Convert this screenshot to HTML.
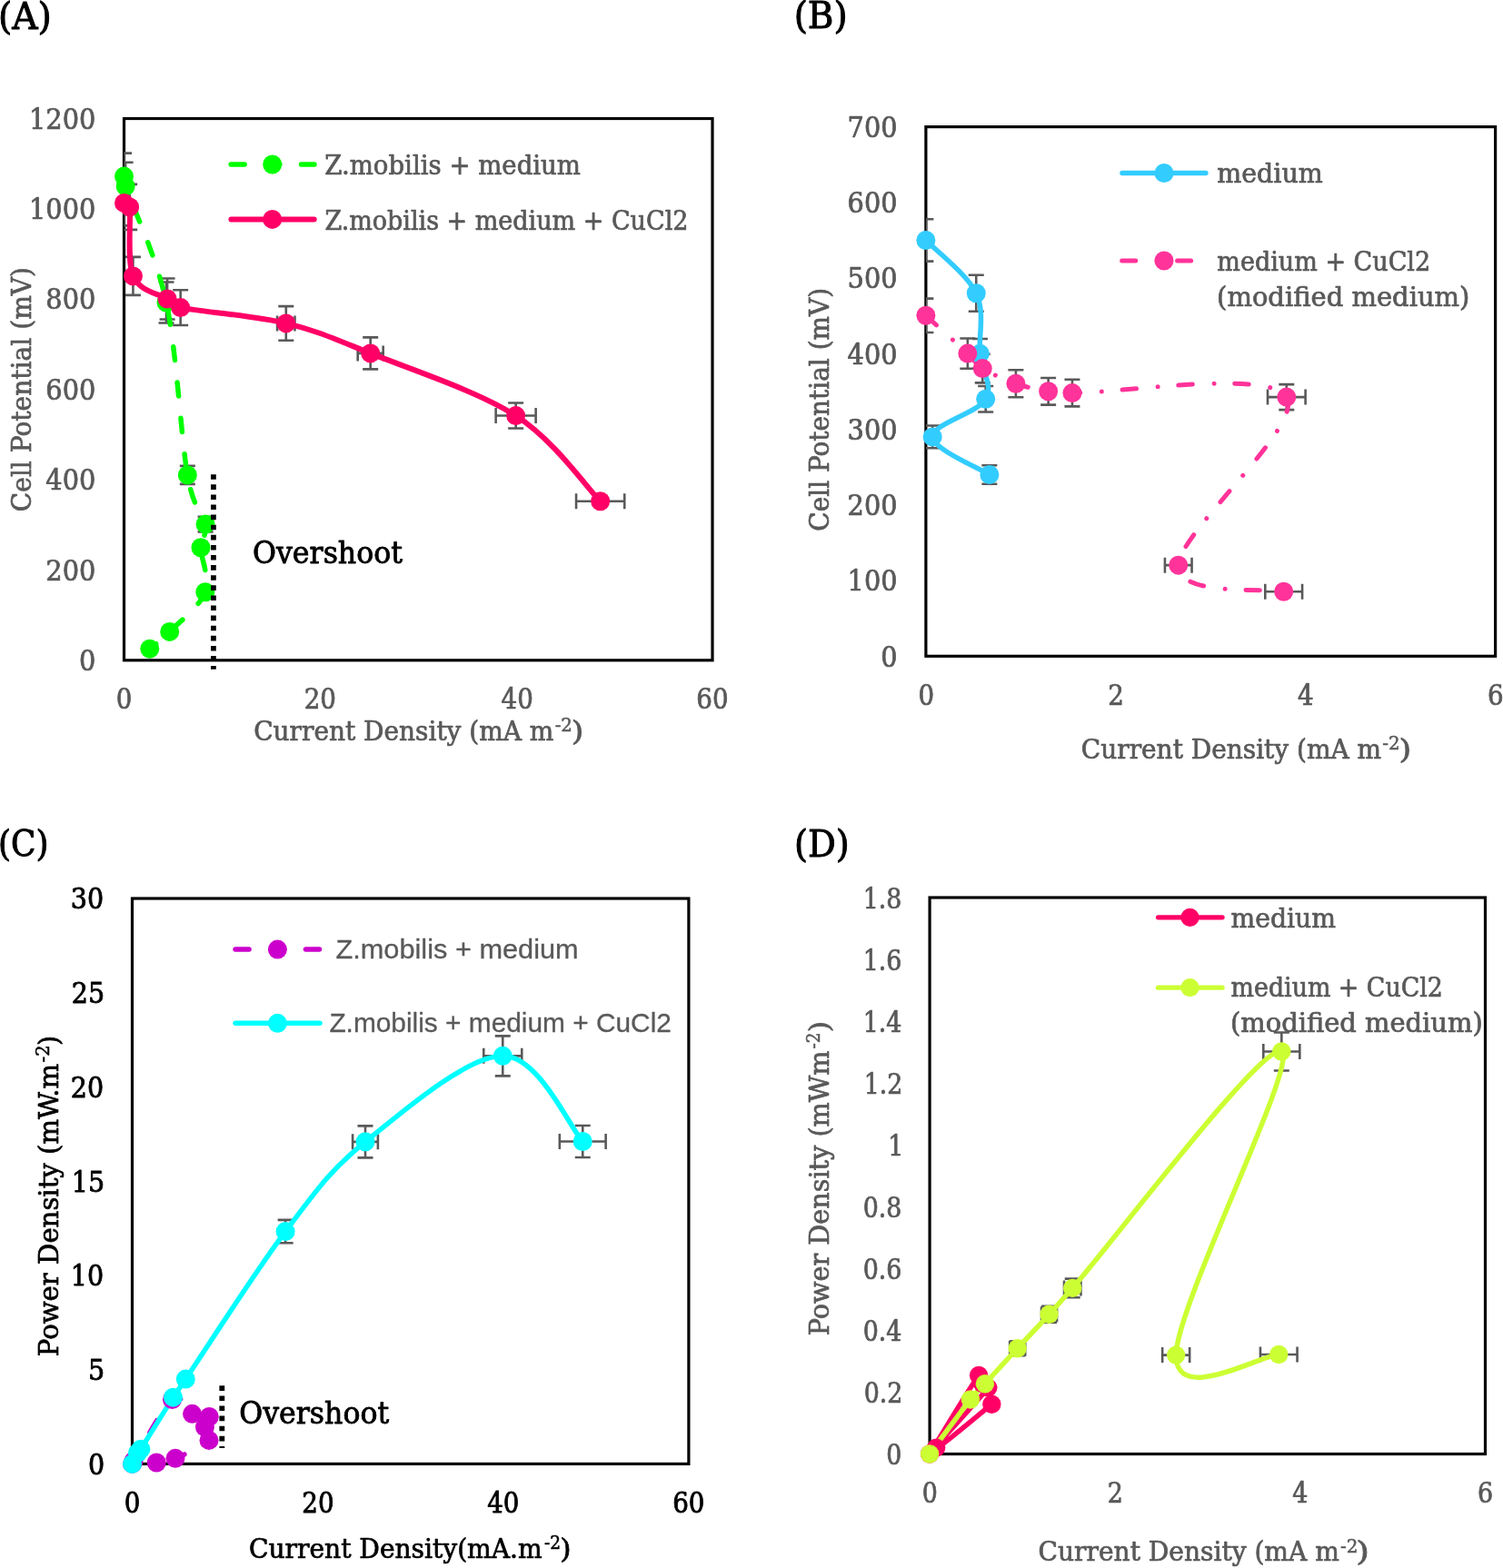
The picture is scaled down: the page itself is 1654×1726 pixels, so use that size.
<!DOCTYPE html>
<html><head><meta charset="utf-8"><title>Polarization and power density curves</title>
<style>html,body{margin:0;padding:0;background:#fff;}svg{display:block;}</style></head>
<body>
<svg width="1654" height="1726" viewBox="0 0 1654 1726">
<rect width="1654" height="1726" fill="#fff"/>
<clipPath id="clipA"><rect x="136.50" y="130.50" width="647.50" height="596.30"/></clipPath>
<rect x="136.50" y="130.50" width="647.50" height="596.30" fill="none" stroke="#000" stroke-width="3.2"/>
<path d="M136.50,168.61V219.61M128.00,168.61H145.00M128.00,219.61H145.00M138.12,178.74V231.34M129.62,178.74H146.62M129.62,231.34H146.62M183.01,310.49V355.49M174.51,310.49H191.51M174.51,355.49H191.51M206.32,512.92V532.92M197.82,512.92H214.82M197.82,532.92H214.82M226.07,568.78V585.38M217.57,568.78H234.57M217.57,585.38H234.57" fill="none" stroke="#595959" stroke-width="2.6" clip-path="url(#clipA)"/>
<path d="M136.50,198.42V248.42M128.00,198.42H145.00M128.00,248.42H145.00M142.65,202.90V252.90M134.15,202.90H151.15M134.15,252.90H151.15M146.43,282.92V324.92M137.93,282.92H154.93M137.93,324.92H154.93M184.09,306.52V351.52M175.59,306.52H192.59M175.59,351.52H192.59M198.66,319.21V358.01M190.16,319.21H207.16M190.16,358.01H207.16M314.78,337.10V374.70M306.28,337.10H323.28M306.28,374.70H323.28M305.08,355.90H324.48M305.08,347.40V364.40M324.48,347.40V364.40M407.69,371.40V406.40M399.19,371.40H416.19M399.19,406.40H416.19M393.69,388.90H421.69M393.69,380.40V397.40M421.69,380.40V397.40M567.63,443.57V471.57M559.13,443.57H576.13M559.13,471.57H576.13M545.63,457.57H589.63M545.63,449.07V466.07M589.63,449.07V466.07M660.65,546.79V556.79M652.15,546.79H669.15M652.15,556.79H669.15M634.05,551.79H687.25M634.05,543.29V560.29M687.25,543.29V560.29" fill="none" stroke="#595959" stroke-width="2.6" clip-path="url(#clipA)"/>
<path id="sGA" d="M136.50,194.11 C136.77,195.93 130.37,181.89 138.12,205.04 C145.87,228.19 171.64,280.01 183.01,332.99 C194.38,385.97 199.15,482.23 206.32,522.92 C213.50,563.60 223.62,563.78 226.07,577.08 C228.52,590.38 221.03,590.28 221.00,602.72 C220.96,615.16 231.57,636.27 225.85,651.72 C220.14,667.16 196.86,684.98 186.68,695.39 C176.50,705.81 168.43,711.05 164.77,714.18" fill="none" stroke="#00FF00" stroke-width="5.5" stroke-linecap="round" stroke-linejoin="round" stroke-dasharray="15 24.5" stroke-dashoffset="34.46" clip-path="url(#clipA)"/>
<path d="M136.50,223.42 C137.53,224.17 141.00,214.48 142.65,227.90 C144.31,241.31 139.52,287.07 146.43,303.92 C153.34,320.78 175.39,323.24 184.09,329.02 C192.80,334.80 176.88,334.13 198.66,338.61 C220.44,343.09 279.94,347.52 314.78,355.90 C349.62,364.28 365.55,371.95 407.69,388.90 C449.84,405.84 525.47,430.42 567.63,457.57 C609.79,484.72 645.15,536.08 660.65,551.79" fill="none" stroke="#FF0066" stroke-width="6" stroke-linecap="round" stroke-linejoin="round" clip-path="url(#clipA)"/>
<circle cx="136.50" cy="194.11" r="10.5" fill="#00FF00"/>
<circle cx="138.12" cy="205.04" r="10.5" fill="#00FF00"/>
<circle cx="183.01" cy="332.99" r="10.5" fill="#00FF00"/>
<circle cx="206.32" cy="522.92" r="10.5" fill="#00FF00"/>
<circle cx="226.07" cy="577.08" r="10.5" fill="#00FF00"/>
<circle cx="221.00" cy="602.72" r="10.5" fill="#00FF00"/>
<circle cx="225.85" cy="651.72" r="10.5" fill="#00FF00"/>
<circle cx="186.68" cy="695.39" r="10.5" fill="#00FF00"/>
<circle cx="164.77" cy="714.18" r="10.5" fill="#00FF00"/>
<circle cx="136.50" cy="223.42" r="10.5" fill="#FF0066"/>
<circle cx="142.65" cy="227.90" r="10.5" fill="#FF0066"/>
<circle cx="146.43" cy="303.92" r="10.5" fill="#FF0066"/>
<circle cx="184.09" cy="329.02" r="10.5" fill="#FF0066"/>
<circle cx="198.66" cy="338.61" r="10.5" fill="#FF0066"/>
<circle cx="314.78" cy="355.90" r="10.5" fill="#FF0066"/>
<circle cx="407.69" cy="388.90" r="10.5" fill="#FF0066"/>
<circle cx="567.63" cy="457.57" r="10.5" fill="#FF0066"/>
<circle cx="660.65" cy="551.79" r="10.5" fill="#FF0066"/>
<path d="M234.90,522.20V736.80" stroke="#000" stroke-width="5.8" stroke-dasharray="5.6 5.5"/>
<clipPath id="clipB"><rect x="1018.90" y="139.60" width="626.70" height="582.70"/></clipPath>
<rect x="1018.90" y="139.60" width="626.70" height="582.70" fill="none" stroke="#000" stroke-width="3.2"/>
<path d="M1018.90,241.26V287.66M1010.40,241.26H1027.40M1010.40,287.66H1027.40M1074.26,302.73V342.73M1065.76,302.73H1082.76M1065.76,342.73H1082.76M1078.44,372.93V405.73M1069.94,372.93H1086.94M1069.94,405.73H1086.94M1084.70,425.07V453.47M1076.20,425.07H1093.20M1076.20,453.47H1093.20M1026.21,468.50V493.30M1017.71,468.50H1034.71M1017.71,493.30H1034.71M1088.88,512.22V532.82M1080.38,512.22H1097.38M1080.38,532.82H1097.38" fill="none" stroke="#595959" stroke-width="2.6" clip-path="url(#clipB)"/>
<path d="M1018.90,328.59V365.99M1010.40,328.59H1027.40M1010.40,365.99H1027.40M1064.86,372.48V405.68M1056.36,372.48H1073.36M1056.36,405.68H1073.36M1081.26,389.76V421.36M1072.76,389.76H1089.76M1072.76,421.36H1089.76M1117.92,407.29V437.29M1109.42,407.29H1126.42M1109.42,437.29H1126.42M1153.64,415.98V445.58M1145.14,415.98H1162.14M1145.14,445.58H1162.14M1179.96,417.81V447.41M1171.46,417.81H1188.46M1171.46,447.41H1188.46M1415.81,423.11V451.11M1407.31,423.11H1424.31M1407.31,451.11H1424.31M1395.01,437.11H1436.61M1395.01,428.61V445.61M1436.61,428.61V445.61M1281.94,622.16H1311.54M1281.94,613.66V630.66M1311.54,613.66V630.66M1392.28,651.21H1433.08M1392.28,642.71V659.71M1433.08,642.71V659.71" fill="none" stroke="#595959" stroke-width="2.6" clip-path="url(#clipB)"/>
<path d="M1018.90,264.46 C1028.13,274.18 1064.34,301.92 1074.26,322.73 C1084.18,343.54 1076.70,369.91 1078.44,389.33 C1080.18,408.75 1093.41,424.01 1084.70,439.27 C1076.00,454.54 1025.52,467.02 1026.21,480.90 C1026.91,494.77 1078.44,515.58 1088.88,522.52" fill="none" stroke="#33CCFF" stroke-width="5.5" stroke-linecap="round" stroke-linejoin="round" clip-path="url(#clipB)"/>
<path id="sPB" d="M1018.90,347.29 C1026.56,354.26 1054.47,379.37 1064.86,389.08 C1075.25,398.79 1072.41,400.03 1081.26,405.56 C1090.10,411.10 1105.85,418.09 1117.92,422.29 C1129.98,426.50 1143.30,429.06 1153.64,430.78 C1163.98,432.50 1136.27,431.56 1179.96,432.61 C1223.66,433.67 1396.35,405.52 1415.81,437.11 C1435.27,468.70 1297.26,586.48 1296.74,622.16 C1296.21,657.84 1393.35,646.37 1412.68,651.21" fill="none" stroke="#FF3399" stroke-width="5" stroke-linecap="round" stroke-linejoin="round" stroke-dasharray="15.5 23.7 0.01 22.67" stroke-dashoffset="61.44" clip-path="url(#clipB)"/>
<circle cx="1018.90" cy="264.46" r="10.5" fill="#33CCFF"/>
<circle cx="1074.26" cy="322.73" r="10.5" fill="#33CCFF"/>
<circle cx="1078.44" cy="389.33" r="10.5" fill="#33CCFF"/>
<circle cx="1084.70" cy="439.27" r="10.5" fill="#33CCFF"/>
<circle cx="1026.21" cy="480.90" r="10.5" fill="#33CCFF"/>
<circle cx="1088.88" cy="522.52" r="10.5" fill="#33CCFF"/>
<circle cx="1018.90" cy="347.29" r="10.5" fill="#FF3399"/>
<circle cx="1064.86" cy="389.08" r="10.5" fill="#FF3399"/>
<circle cx="1081.26" cy="405.56" r="10.5" fill="#FF3399"/>
<circle cx="1117.92" cy="422.29" r="10.5" fill="#FF3399"/>
<circle cx="1153.64" cy="430.78" r="10.5" fill="#FF3399"/>
<circle cx="1179.96" cy="432.61" r="10.5" fill="#FF3399"/>
<circle cx="1415.81" cy="437.11" r="10.5" fill="#FF3399"/>
<circle cx="1296.74" cy="622.16" r="10.5" fill="#FF3399"/>
<circle cx="1412.68" cy="651.21" r="10.5" fill="#FF3399"/>
<clipPath id="clipC"><rect x="145.50" y="989.00" width="612.40" height="622.40"/></clipPath>
<rect x="145.50" y="989.00" width="612.40" height="622.40" fill="none" stroke="#000" stroke-width="3.2"/>
<path d="M314.11,1342.88V1368.28M305.61,1342.88H322.61M305.61,1368.28H322.61M401.99,1239.37V1274.37M393.49,1239.37H410.49M393.49,1274.37H410.49M388.09,1256.87H415.89M388.09,1248.37V1265.37M415.89,1248.37V1265.37M553.26,1140.34V1184.34M544.76,1140.34H561.76M544.76,1184.34H561.76M532.26,1162.34H574.26M532.26,1153.84V1170.84M574.26,1153.84V1170.84M641.24,1239.00V1274.00M632.74,1239.00H649.74M632.74,1274.00H649.74M615.84,1256.50H666.64M615.84,1248.00V1265.00M666.64,1248.00V1265.00" fill="none" stroke="#595959" stroke-width="2.6" clip-path="url(#clipC)"/>
<path id="sMC" d="M145.50,1611.40 C145.76,1610.86 139.70,1619.94 147.03,1608.13 C154.36,1596.32 178.74,1549.17 189.49,1540.54 C200.24,1531.90 204.75,1553.16 211.54,1556.33 C218.32,1559.49 227.90,1557.10 230.22,1559.52 C232.53,1561.94 225.45,1566.52 225.42,1570.84 C225.38,1575.16 235.42,1579.70 230.01,1585.44 C224.60,1591.19 202.59,1601.21 192.96,1605.30 C183.33,1609.40 175.69,1609.23 172.24,1610.02" fill="none" stroke="#CC00CC" stroke-width="5.5" stroke-linecap="round" stroke-linejoin="round" stroke-dasharray="15 23.6" stroke-dashoffset="30.3" clip-path="url(#clipC)"/>
<path d="M145.50,1611.40 C146.47,1609.42 149.75,1602.23 151.32,1599.53 C152.88,1596.82 148.36,1605.38 154.89,1595.16 C161.42,1584.93 182.28,1551.01 190.51,1538.16 C198.74,1525.31 183.69,1548.48 204.29,1518.05 C224.89,1487.62 281.16,1399.11 314.11,1355.58 C347.06,1312.05 362.14,1289.08 401.99,1256.87 C441.85,1224.67 513.38,1162.40 553.26,1162.34 C593.13,1162.28 626.57,1240.81 641.24,1256.50" fill="none" stroke="#00FFFF" stroke-width="5.5" stroke-linecap="round" stroke-linejoin="round" clip-path="url(#clipC)"/>
<circle cx="145.50" cy="1611.40" r="10.5" fill="#CC00CC"/>
<circle cx="147.03" cy="1608.13" r="10.5" fill="#CC00CC"/>
<circle cx="189.49" cy="1540.54" r="10.5" fill="#CC00CC"/>
<circle cx="211.54" cy="1556.33" r="10.5" fill="#CC00CC"/>
<circle cx="230.22" cy="1559.52" r="10.5" fill="#CC00CC"/>
<circle cx="225.42" cy="1570.84" r="10.5" fill="#CC00CC"/>
<circle cx="230.01" cy="1585.44" r="10.5" fill="#CC00CC"/>
<circle cx="192.96" cy="1605.30" r="10.5" fill="#CC00CC"/>
<circle cx="172.24" cy="1610.02" r="10.5" fill="#CC00CC"/>
<circle cx="145.50" cy="1611.40" r="10.5" fill="#00FFFF"/>
<circle cx="151.32" cy="1599.53" r="10.5" fill="#00FFFF"/>
<circle cx="154.89" cy="1595.16" r="10.5" fill="#00FFFF"/>
<circle cx="190.51" cy="1538.16" r="10.5" fill="#00FFFF"/>
<circle cx="204.29" cy="1518.05" r="10.5" fill="#00FFFF"/>
<circle cx="314.11" cy="1355.58" r="10.5" fill="#00FFFF"/>
<circle cx="401.99" cy="1256.87" r="10.5" fill="#00FFFF"/>
<circle cx="553.26" cy="1162.34" r="10.5" fill="#00FFFF"/>
<circle cx="641.24" cy="1256.50" r="10.5" fill="#00FFFF"/>
<path d="M244.30,1525.30V1594.00" stroke="#000" stroke-width="5.8" stroke-dasharray="5.6 5.5"/>
<clipPath id="clipD"><rect x="1023.10" y="988.00" width="611.40" height="612.50"/></clipPath>
<rect x="1023.10" y="988.00" width="611.40" height="612.50" fill="none" stroke="#000" stroke-width="3.2"/>
<path d="M1119.70,1476.24V1492.24M1111.20,1476.24H1128.20M1111.20,1492.24H1128.20M1111.20,1484.24H1128.20M1111.20,1475.74V1492.74M1128.20,1475.74V1492.74M1154.55,1437.78V1455.78M1146.05,1437.78H1163.05M1146.05,1455.78H1163.05M1146.05,1446.78H1163.05M1146.05,1438.28V1455.28M1163.05,1438.28V1455.28M1180.23,1407.60V1428.20M1171.73,1407.60H1188.73M1171.73,1428.20H1188.73M1171.03,1417.90H1189.43M1171.03,1409.40V1426.40M1189.43,1409.40V1426.40M1410.32,1136.50V1178.50M1401.82,1136.50H1418.82M1401.82,1178.50H1418.82M1390.32,1157.50H1430.32M1390.32,1149.00V1166.00M1430.32,1149.00V1166.00M1279.15,1491.61H1309.15M1279.15,1483.11V1500.11M1309.15,1483.11V1500.11M1386.96,1490.94H1427.56M1386.96,1482.44V1499.44M1427.56,1482.44V1499.44" fill="none" stroke="#595959" stroke-width="2.6" clip-path="url(#clipD)"/>
<path d="M1023.10,1600.50 C1032.10,1586.07 1067.43,1526.86 1077.11,1513.93 C1086.79,1501.00 1079.48,1520.64 1081.18,1522.92 C1082.88,1525.20 1095.79,1515.83 1087.30,1527.61 C1078.81,1539.39 1029.55,1590.56 1030.23,1593.59 C1030.91,1596.62 1081.18,1553.75 1091.37,1545.78" fill="none" stroke="#FF0066" stroke-width="5.5" stroke-linecap="round" stroke-linejoin="round" clip-path="url(#clipD)"/>
<path d="M1023.10,1600.50 C1030.57,1590.51 1057.80,1553.45 1067.94,1540.57 C1078.08,1527.68 1075.31,1532.59 1083.93,1523.20 C1092.56,1513.82 1107.93,1496.98 1119.70,1484.24 C1131.47,1471.50 1144.46,1457.83 1154.55,1446.78 C1164.64,1435.72 1137.60,1466.11 1180.23,1417.90 C1222.86,1369.69 1391.33,1145.21 1410.32,1157.50 C1429.31,1169.78 1294.66,1436.04 1294.15,1491.61 C1293.64,1547.19 1388.41,1491.06 1407.26,1490.94" fill="none" stroke="#CCFF33" stroke-width="5.5" stroke-linecap="round" stroke-linejoin="round" clip-path="url(#clipD)"/>
<circle cx="1023.10" cy="1600.50" r="10.2" fill="#FF0066"/>
<circle cx="1077.11" cy="1513.93" r="10.2" fill="#FF0066"/>
<circle cx="1081.18" cy="1522.92" r="10.2" fill="#FF0066"/>
<circle cx="1087.30" cy="1527.61" r="10.2" fill="#FF0066"/>
<circle cx="1030.23" cy="1593.59" r="10.2" fill="#FF0066"/>
<circle cx="1091.37" cy="1545.78" r="10.2" fill="#FF0066"/>
<circle cx="1023.10" cy="1600.50" r="10.2" fill="#CCFF33"/>
<circle cx="1067.94" cy="1540.57" r="10.2" fill="#CCFF33"/>
<circle cx="1083.93" cy="1523.20" r="10.2" fill="#CCFF33"/>
<circle cx="1119.70" cy="1484.24" r="10.2" fill="#CCFF33"/>
<circle cx="1154.55" cy="1446.78" r="10.2" fill="#CCFF33"/>
<circle cx="1180.23" cy="1417.90" r="10.2" fill="#CCFF33"/>
<circle cx="1410.32" cy="1157.50" r="10.2" fill="#CCFF33"/>
<circle cx="1294.15" cy="1491.61" r="10.2" fill="#CCFF33"/>
<circle cx="1407.26" cy="1490.94" r="10.2" fill="#CCFF33"/>
<path d="M254.15,181.00H345.95" stroke="#00FF00" stroke-width="5.5" stroke-linecap="round" stroke-dasharray="15 23.7" stroke-dashoffset="0"/>
<circle cx="299.70" cy="181.00" r="10.5" fill="#00FF00"/>
<path d="M254.40,241.40H345.70" stroke="#FF0066" stroke-width="6" stroke-linecap="round"/>
<circle cx="299.70" cy="241.40" r="10.5" fill="#FF0066"/>
<path d="M1234.95,190.50H1326.95" stroke="#33CCFF" stroke-width="5.5" stroke-linecap="round"/>
<circle cx="1281.00" cy="190.50" r="10.5" fill="#33CCFF"/>
<path d="M1234.70,287.00H1312.00" stroke="#FF3399" stroke-width="5" stroke-linecap="round" stroke-dasharray="15 23.4 0.01 22.5" stroke-dashoffset="0"/>
<circle cx="1281.00" cy="287.00" r="10.5" fill="#FF3399"/>
<path d="M259.05,1045.10H351.95" stroke="#CC00CC" stroke-width="5.5" stroke-linecap="round" stroke-dasharray="15 23.7" stroke-dashoffset="0"/>
<circle cx="305.40" cy="1045.10" r="10.5" fill="#CC00CC"/>
<path d="M259.05,1126.30H351.95" stroke="#00FFFF" stroke-width="5.5" stroke-linecap="round"/>
<circle cx="305.40" cy="1126.30" r="10.5" fill="#00FFFF"/>
<path d="M1274.50,1009.80H1345.10" stroke="#FF0066" stroke-width="5.2" stroke-linecap="round"/>
<circle cx="1309.50" cy="1009.80" r="10.1" fill="#FF0066"/>
<path d="M1274.50,1087.20H1345.10" stroke="#CCFF33" stroke-width="5.2" stroke-linecap="round"/>
<circle cx="1309.50" cy="1087.20" r="10.1" fill="#CCFF33"/>
<text x="-2.12" y="31.60" font-family='"DejaVu Serif Condensed","DejaVu Serif",serif' font-stretch="condensed" font-size="41.29" fill="#000" stroke="#000" stroke-width="0.9" stroke-linejoin="round" textLength="59.06" lengthAdjust="spacingAndGlyphs">(A)</text>
<text x="873.65" y="31.40" font-family='"DejaVu Serif Condensed","DejaVu Serif",serif' font-stretch="condensed" font-size="40.60" fill="#000" stroke="#000" stroke-width="0.9" stroke-linejoin="round" textLength="59.13" lengthAdjust="spacingAndGlyphs">(B)</text>
<text x="-2.06" y="942.10" font-family='"DejaVu Serif Condensed","DejaVu Serif",serif' font-stretch="condensed" font-size="38.63" fill="#000" stroke="#000" stroke-width="0.9" stroke-linejoin="round" textLength="55.45" lengthAdjust="spacingAndGlyphs">(C)</text>
<text x="873.99" y="942.60" font-family='"DejaVu Serif Condensed","DejaVu Serif",serif' font-stretch="condensed" font-size="40.60" fill="#000" stroke="#000" stroke-width="0.9" stroke-linejoin="round" textLength="60.82" lengthAdjust="spacingAndGlyphs">(D)</text>
<text x="87.06" y="738.00" font-family='"DejaVu Serif Condensed","DejaVu Serif",serif' font-stretch="condensed" font-size="30.82" fill="#595959" stroke="#595959" stroke-width="0.7" stroke-linejoin="round" textLength="18.34" lengthAdjust="spacingAndGlyphs">0</text>
<text x="50.37" y="638.62" font-family='"DejaVu Serif Condensed","DejaVu Serif",serif' font-stretch="condensed" font-size="30.82" fill="#595959" stroke="#595959" stroke-width="0.7" stroke-linejoin="round" textLength="55.03" lengthAdjust="spacingAndGlyphs">200</text>
<text x="50.37" y="539.23" font-family='"DejaVu Serif Condensed","DejaVu Serif",serif' font-stretch="condensed" font-size="30.82" fill="#595959" stroke="#595959" stroke-width="0.7" stroke-linejoin="round" textLength="55.03" lengthAdjust="spacingAndGlyphs">400</text>
<text x="50.37" y="439.85" font-family='"DejaVu Serif Condensed","DejaVu Serif",serif' font-stretch="condensed" font-size="30.82" fill="#595959" stroke="#595959" stroke-width="0.7" stroke-linejoin="round" textLength="55.03" lengthAdjust="spacingAndGlyphs">600</text>
<text x="50.37" y="340.47" font-family='"DejaVu Serif Condensed","DejaVu Serif",serif' font-stretch="condensed" font-size="30.82" fill="#595959" stroke="#595959" stroke-width="0.7" stroke-linejoin="round" textLength="55.03" lengthAdjust="spacingAndGlyphs">800</text>
<text x="32.03" y="241.08" font-family='"DejaVu Serif Condensed","DejaVu Serif",serif' font-stretch="condensed" font-size="30.82" fill="#595959" stroke="#595959" stroke-width="0.7" stroke-linejoin="round" textLength="73.37" lengthAdjust="spacingAndGlyphs">1000</text>
<text x="32.03" y="141.70" font-family='"DejaVu Serif Condensed","DejaVu Serif",serif' font-stretch="condensed" font-size="30.82" fill="#595959" stroke="#595959" stroke-width="0.7" stroke-linejoin="round" textLength="73.37" lengthAdjust="spacingAndGlyphs">1200</text>
<text x="127.68" y="780.30" font-family='"DejaVu Serif Condensed","DejaVu Serif",serif' font-stretch="condensed" font-size="30.82" fill="#595959" stroke="#595959" stroke-width="0.7" stroke-linejoin="round" textLength="17.64" lengthAdjust="spacingAndGlyphs">0</text>
<text x="334.70" y="780.30" font-family='"DejaVu Serif Condensed","DejaVu Serif",serif' font-stretch="condensed" font-size="30.82" fill="#595959" stroke="#595959" stroke-width="0.7" stroke-linejoin="round" textLength="35.28" lengthAdjust="spacingAndGlyphs">20</text>
<text x="551.53" y="780.30" font-family='"DejaVu Serif Condensed","DejaVu Serif",serif' font-stretch="condensed" font-size="30.82" fill="#595959" stroke="#595959" stroke-width="0.7" stroke-linejoin="round" textLength="35.28" lengthAdjust="spacingAndGlyphs">40</text>
<text x="766.36" y="780.30" font-family='"DejaVu Serif Condensed","DejaVu Serif",serif' font-stretch="condensed" font-size="30.82" fill="#595959" stroke="#595959" stroke-width="0.7" stroke-linejoin="round" textLength="35.28" lengthAdjust="spacingAndGlyphs">60</text>
<text transform="translate(34.00,0) rotate(-90)" x="-563.23" y="0" font-family='"DejaVu Serif Condensed","DejaVu Serif",serif' font-stretch="condensed" font-size="30.59" fill="#595959" stroke="#595959" stroke-width="0.7" stroke-linejoin="round" textLength="269.28" lengthAdjust="spacingAndGlyphs">Cell Potential (mV)</text>
<text x="279.19" y="814.80" font-family='"DejaVu Serif Condensed","DejaVu Serif",serif' font-stretch="condensed" font-size="30.59" fill="#595959" stroke="#595959" stroke-width="0.7" stroke-linejoin="round" textLength="330.19" lengthAdjust="spacingAndGlyphs">Current Density (mA m</text>
<text x="610.65" y="805.00" font-family='"DejaVu Serif Condensed","DejaVu Serif",serif' font-stretch="condensed" font-size="20.46" fill="#595959" stroke="#595959" stroke-width="0.5" stroke-linejoin="round" textLength="19.29" lengthAdjust="spacingAndGlyphs">-2</text>
<text x="628.86" y="814.80" font-family='"DejaVu Serif Condensed","DejaVu Serif",serif' font-stretch="condensed" font-size="30.59" fill="#595959" stroke="#595959" stroke-width="0.7" stroke-linejoin="round" textLength="13.59" lengthAdjust="spacingAndGlyphs">)</text>
<text x="357.39" y="192.40" font-family='"DejaVu Serif Condensed","DejaVu Serif",serif' font-stretch="condensed" font-size="30.45" fill="#595959" stroke="#595959" stroke-width="0.7" stroke-linejoin="round" textLength="281.59" lengthAdjust="spacingAndGlyphs">Z.mobilis + medium</text>
<text x="357.41" y="252.80" font-family='"DejaVu Serif Condensed","DejaVu Serif",serif' font-stretch="condensed" font-size="30.45" fill="#595959" stroke="#595959" stroke-width="0.7" stroke-linejoin="round" textLength="400.06" lengthAdjust="spacingAndGlyphs">Z.mobilis + medium + CuCl2</text>
<text x="278.08" y="619.90" font-family='"DejaVu Serif Condensed","DejaVu Serif",serif' font-stretch="condensed" font-size="34.19" fill="#000" stroke="#000" stroke-width="0.8" stroke-linejoin="round" textLength="164.88" lengthAdjust="spacingAndGlyphs">Overshoot</text>
<text x="969.26" y="733.60" font-family='"DejaVu Serif Condensed","DejaVu Serif",serif' font-stretch="condensed" font-size="30.82" fill="#595959" stroke="#595959" stroke-width="0.7" stroke-linejoin="round" textLength="18.34" lengthAdjust="spacingAndGlyphs">0</text>
<text x="932.57" y="650.36" font-family='"DejaVu Serif Condensed","DejaVu Serif",serif' font-stretch="condensed" font-size="30.82" fill="#595959" stroke="#595959" stroke-width="0.7" stroke-linejoin="round" textLength="55.03" lengthAdjust="spacingAndGlyphs">100</text>
<text x="932.57" y="567.11" font-family='"DejaVu Serif Condensed","DejaVu Serif",serif' font-stretch="condensed" font-size="30.82" fill="#595959" stroke="#595959" stroke-width="0.7" stroke-linejoin="round" textLength="55.03" lengthAdjust="spacingAndGlyphs">200</text>
<text x="932.57" y="483.87" font-family='"DejaVu Serif Condensed","DejaVu Serif",serif' font-stretch="condensed" font-size="30.82" fill="#595959" stroke="#595959" stroke-width="0.7" stroke-linejoin="round" textLength="55.03" lengthAdjust="spacingAndGlyphs">300</text>
<text x="932.57" y="400.63" font-family='"DejaVu Serif Condensed","DejaVu Serif",serif' font-stretch="condensed" font-size="30.82" fill="#595959" stroke="#595959" stroke-width="0.7" stroke-linejoin="round" textLength="55.03" lengthAdjust="spacingAndGlyphs">400</text>
<text x="932.57" y="317.39" font-family='"DejaVu Serif Condensed","DejaVu Serif",serif' font-stretch="condensed" font-size="30.82" fill="#595959" stroke="#595959" stroke-width="0.7" stroke-linejoin="round" textLength="55.03" lengthAdjust="spacingAndGlyphs">500</text>
<text x="932.57" y="234.14" font-family='"DejaVu Serif Condensed","DejaVu Serif",serif' font-stretch="condensed" font-size="30.82" fill="#595959" stroke="#595959" stroke-width="0.7" stroke-linejoin="round" textLength="55.03" lengthAdjust="spacingAndGlyphs">600</text>
<text x="932.57" y="150.90" font-family='"DejaVu Serif Condensed","DejaVu Serif",serif' font-stretch="condensed" font-size="30.82" fill="#595959" stroke="#595959" stroke-width="0.7" stroke-linejoin="round" textLength="55.03" lengthAdjust="spacingAndGlyphs">700</text>
<text x="1010.48" y="776.10" font-family='"DejaVu Serif Condensed","DejaVu Serif",serif' font-stretch="condensed" font-size="30.82" fill="#595959" stroke="#595959" stroke-width="0.7" stroke-linejoin="round" textLength="17.64" lengthAdjust="spacingAndGlyphs">0</text>
<text x="1219.28" y="776.10" font-family='"DejaVu Serif Condensed","DejaVu Serif",serif' font-stretch="condensed" font-size="30.82" fill="#595959" stroke="#595959" stroke-width="0.7" stroke-linejoin="round" textLength="17.64" lengthAdjust="spacingAndGlyphs">2</text>
<text x="1428.08" y="776.10" font-family='"DejaVu Serif Condensed","DejaVu Serif",serif' font-stretch="condensed" font-size="30.82" fill="#595959" stroke="#595959" stroke-width="0.7" stroke-linejoin="round" textLength="17.64" lengthAdjust="spacingAndGlyphs">4</text>
<text x="1636.88" y="776.10" font-family='"DejaVu Serif Condensed","DejaVu Serif",serif' font-stretch="condensed" font-size="30.82" fill="#595959" stroke="#595959" stroke-width="0.7" stroke-linejoin="round" textLength="17.64" lengthAdjust="spacingAndGlyphs">6</text>
<text transform="translate(911.70,0) rotate(-90)" x="-584.72" y="0" font-family='"DejaVu Serif Condensed","DejaVu Serif",serif' font-stretch="condensed" font-size="30.59" fill="#595959" stroke="#595959" stroke-width="0.7" stroke-linejoin="round" textLength="267.87" lengthAdjust="spacingAndGlyphs">Cell Potential (mV)</text>
<text x="1189.88" y="835.20" font-family='"DejaVu Serif Condensed","DejaVu Serif",serif' font-stretch="condensed" font-size="30.59" fill="#595959" stroke="#595959" stroke-width="0.7" stroke-linejoin="round" textLength="330.21" lengthAdjust="spacingAndGlyphs">Current Density (mA m</text>
<text x="1521.34" y="825.40" font-family='"DejaVu Serif Condensed","DejaVu Serif",serif' font-stretch="condensed" font-size="20.46" fill="#595959" stroke="#595959" stroke-width="0.5" stroke-linejoin="round" textLength="19.29" lengthAdjust="spacingAndGlyphs">-2</text>
<text x="1539.57" y="835.20" font-family='"DejaVu Serif Condensed","DejaVu Serif",serif' font-stretch="condensed" font-size="30.59" fill="#595959" stroke="#595959" stroke-width="0.7" stroke-linejoin="round" textLength="13.73" lengthAdjust="spacingAndGlyphs">)</text>
<text x="1339.30" y="201.10" font-family='"DejaVu Serif Condensed","DejaVu Serif",serif' font-stretch="condensed" font-size="30.59" fill="#595959" stroke="#595959" stroke-width="0.7" stroke-linejoin="round" textLength="116.43" lengthAdjust="spacingAndGlyphs">medium</text>
<text x="1339.30" y="298.40" font-family='"DejaVu Serif Condensed","DejaVu Serif",serif' font-stretch="condensed" font-size="30.59" fill="#595959" stroke="#595959" stroke-width="0.7" stroke-linejoin="round" textLength="234.86" lengthAdjust="spacingAndGlyphs">medium + CuCl2</text>
<text x="1339.12" y="336.50" font-family='"DejaVu Serif Condensed","DejaVu Serif",serif' font-stretch="condensed" font-size="30.59" fill="#595959" stroke="#595959" stroke-width="0.7" stroke-linejoin="round" textLength="278.31" lengthAdjust="spacingAndGlyphs">(modified medium)</text>
<text x="96.93" y="1622.80" font-family='"DejaVu Serif Condensed","DejaVu Serif",serif' font-stretch="condensed" font-size="30.82" fill="#000" stroke="#000" stroke-width="0.8" stroke-linejoin="round" textLength="18.17" lengthAdjust="spacingAndGlyphs">0</text>
<text x="96.93" y="1519.07" font-family='"DejaVu Serif Condensed","DejaVu Serif",serif' font-stretch="condensed" font-size="30.82" fill="#000" stroke="#000" stroke-width="0.8" stroke-linejoin="round" textLength="18.17" lengthAdjust="spacingAndGlyphs">5</text>
<text x="77.77" y="1415.33" font-family='"DejaVu Serif Condensed","DejaVu Serif",serif' font-stretch="condensed" font-size="30.82" fill="#000" stroke="#000" stroke-width="0.8" stroke-linejoin="round" textLength="36.33" lengthAdjust="spacingAndGlyphs">10</text>
<text x="78.77" y="1311.60" font-family='"DejaVu Serif Condensed","DejaVu Serif",serif' font-stretch="condensed" font-size="30.82" fill="#000" stroke="#000" stroke-width="0.8" stroke-linejoin="round" textLength="36.33" lengthAdjust="spacingAndGlyphs">15</text>
<text x="77.77" y="1207.87" font-family='"DejaVu Serif Condensed","DejaVu Serif",serif' font-stretch="condensed" font-size="30.82" fill="#000" stroke="#000" stroke-width="0.8" stroke-linejoin="round" textLength="36.33" lengthAdjust="spacingAndGlyphs">20</text>
<text x="78.77" y="1104.13" font-family='"DejaVu Serif Condensed","DejaVu Serif",serif' font-stretch="condensed" font-size="30.82" fill="#000" stroke="#000" stroke-width="0.8" stroke-linejoin="round" textLength="36.33" lengthAdjust="spacingAndGlyphs">25</text>
<text x="77.77" y="1000.40" font-family='"DejaVu Serif Condensed","DejaVu Serif",serif' font-stretch="condensed" font-size="30.82" fill="#000" stroke="#000" stroke-width="0.8" stroke-linejoin="round" textLength="36.33" lengthAdjust="spacingAndGlyphs">30</text>
<text x="136.68" y="1665.20" font-family='"DejaVu Serif Condensed","DejaVu Serif",serif' font-stretch="condensed" font-size="30.82" fill="#000" stroke="#000" stroke-width="0.8" stroke-linejoin="round" textLength="17.64" lengthAdjust="spacingAndGlyphs">0</text>
<text x="332.30" y="1665.20" font-family='"DejaVu Serif Condensed","DejaVu Serif",serif' font-stretch="condensed" font-size="30.82" fill="#000" stroke="#000" stroke-width="0.8" stroke-linejoin="round" textLength="35.28" lengthAdjust="spacingAndGlyphs">20</text>
<text x="536.23" y="1665.20" font-family='"DejaVu Serif Condensed","DejaVu Serif",serif' font-stretch="condensed" font-size="30.82" fill="#000" stroke="#000" stroke-width="0.8" stroke-linejoin="round" textLength="35.28" lengthAdjust="spacingAndGlyphs">40</text>
<text x="740.16" y="1665.20" font-family='"DejaVu Serif Condensed","DejaVu Serif",serif' font-stretch="condensed" font-size="30.82" fill="#000" stroke="#000" stroke-width="0.8" stroke-linejoin="round" textLength="35.28" lengthAdjust="spacingAndGlyphs">60</text>
<text transform="translate(63.50,0) rotate(-90)" x="-1493.18" y="0" font-family='"DejaVu Serif Condensed","DejaVu Serif",serif' font-stretch="condensed" font-size="30.59" fill="#000" stroke="#000" stroke-width="0.7" stroke-linejoin="round" textLength="322.40" lengthAdjust="spacingAndGlyphs">Power Density (mW.m</text>
<text transform="translate(54.10,0) rotate(-90)" x="-1169.41" y="0" font-family='"DejaVu Serif Condensed","DejaVu Serif",serif' font-stretch="condensed" font-size="21.27" fill="#000" stroke="#000" stroke-width="0.5" stroke-linejoin="round" textLength="19.10" lengthAdjust="spacingAndGlyphs">-2</text>
<text transform="translate(63.50,0) rotate(-90)" x="-1151.03" y="0" font-family='"DejaVu Serif Condensed","DejaVu Serif",serif' font-stretch="condensed" font-size="30.59" fill="#000" stroke="#000" stroke-width="0.7" stroke-linejoin="round" textLength="11.09" lengthAdjust="spacingAndGlyphs">)</text>
<text x="273.97" y="1714.80" font-family='"DejaVu Serif Condensed","DejaVu Serif",serif' font-stretch="condensed" font-size="30.45" fill="#000" stroke="#000" stroke-width="0.7" stroke-linejoin="round" textLength="322.65" lengthAdjust="spacingAndGlyphs">Current Density(mA.m</text>
<text x="599.00" y="1705.10" font-family='"DejaVu Serif Condensed","DejaVu Serif",serif' font-stretch="condensed" font-size="20.05" fill="#000" stroke="#000" stroke-width="0.5" stroke-linejoin="round" textLength="18.05" lengthAdjust="spacingAndGlyphs">-2</text>
<text x="616.37" y="1714.80" font-family='"DejaVu Serif Condensed","DejaVu Serif",serif' font-stretch="condensed" font-size="30.45" fill="#000" stroke="#000" stroke-width="0.7" stroke-linejoin="round" textLength="12.35" lengthAdjust="spacingAndGlyphs">)</text>
<text x="369.48" y="1054.60" font-family='"Liberation Sans",sans-serif' font-stretch="normal" font-size="29.80" fill="#595959" stroke="#595959" stroke-width="0.3" stroke-linejoin="round" textLength="267.20" lengthAdjust="spacingAndGlyphs">Z.mobilis + medium</text>
<text x="362.40" y="1135.70" font-family='"Liberation Sans",sans-serif' font-stretch="normal" font-size="29.80" fill="#595959" stroke="#595959" stroke-width="0.3" stroke-linejoin="round" textLength="376.50" lengthAdjust="spacingAndGlyphs">Z.mobilis + medium + CuCl2</text>
<text x="263.26" y="1567.20" font-family='"DejaVu Serif Condensed","DejaVu Serif",serif' font-stretch="condensed" font-size="34.05" fill="#000" stroke="#000" stroke-width="0.8" stroke-linejoin="round" textLength="164.86" lengthAdjust="spacingAndGlyphs">Overshoot</text>
<text x="975.29" y="1612.00" font-family='"DejaVu Serif Condensed","DejaVu Serif",serif' font-stretch="condensed" font-size="30.82" fill="#595959" stroke="#595959" stroke-width="0.7" stroke-linejoin="round" textLength="17.11" lengthAdjust="spacingAndGlyphs">0</text>
<text x="950.64" y="1543.94" font-family='"DejaVu Serif Condensed","DejaVu Serif",serif' font-stretch="condensed" font-size="30.82" fill="#595959" stroke="#595959" stroke-width="0.7" stroke-linejoin="round" textLength="42.76" lengthAdjust="spacingAndGlyphs">0.2</text>
<text x="949.64" y="1475.89" font-family='"DejaVu Serif Condensed","DejaVu Serif",serif' font-stretch="condensed" font-size="30.82" fill="#595959" stroke="#595959" stroke-width="0.7" stroke-linejoin="round" textLength="42.76" lengthAdjust="spacingAndGlyphs">0.4</text>
<text x="949.64" y="1407.83" font-family='"DejaVu Serif Condensed","DejaVu Serif",serif' font-stretch="condensed" font-size="30.82" fill="#595959" stroke="#595959" stroke-width="0.7" stroke-linejoin="round" textLength="42.76" lengthAdjust="spacingAndGlyphs">0.6</text>
<text x="949.64" y="1339.78" font-family='"DejaVu Serif Condensed","DejaVu Serif",serif' font-stretch="condensed" font-size="30.82" fill="#595959" stroke="#595959" stroke-width="0.7" stroke-linejoin="round" textLength="42.76" lengthAdjust="spacingAndGlyphs">0.8</text>
<text x="977.29" y="1271.72" font-family='"DejaVu Serif Condensed","DejaVu Serif",serif' font-stretch="condensed" font-size="30.82" fill="#595959" stroke="#595959" stroke-width="0.7" stroke-linejoin="round" textLength="17.11" lengthAdjust="spacingAndGlyphs">1</text>
<text x="950.64" y="1203.67" font-family='"DejaVu Serif Condensed","DejaVu Serif",serif' font-stretch="condensed" font-size="30.82" fill="#595959" stroke="#595959" stroke-width="0.7" stroke-linejoin="round" textLength="42.76" lengthAdjust="spacingAndGlyphs">1.2</text>
<text x="949.64" y="1135.61" font-family='"DejaVu Serif Condensed","DejaVu Serif",serif' font-stretch="condensed" font-size="30.82" fill="#595959" stroke="#595959" stroke-width="0.7" stroke-linejoin="round" textLength="42.76" lengthAdjust="spacingAndGlyphs">1.4</text>
<text x="949.64" y="1067.56" font-family='"DejaVu Serif Condensed","DejaVu Serif",serif' font-stretch="condensed" font-size="30.82" fill="#595959" stroke="#595959" stroke-width="0.7" stroke-linejoin="round" textLength="42.76" lengthAdjust="spacingAndGlyphs">1.6</text>
<text x="949.64" y="999.50" font-family='"DejaVu Serif Condensed","DejaVu Serif",serif' font-stretch="condensed" font-size="30.82" fill="#595959" stroke="#595959" stroke-width="0.7" stroke-linejoin="round" textLength="42.76" lengthAdjust="spacingAndGlyphs">1.8</text>
<text x="1014.65" y="1654.30" font-family='"DejaVu Serif Condensed","DejaVu Serif",serif' font-stretch="condensed" font-size="30.82" fill="#595959" stroke="#595959" stroke-width="0.7" stroke-linejoin="round" textLength="17.11" lengthAdjust="spacingAndGlyphs">0</text>
<text x="1218.75" y="1654.30" font-family='"DejaVu Serif Condensed","DejaVu Serif",serif' font-stretch="condensed" font-size="30.82" fill="#595959" stroke="#595959" stroke-width="0.7" stroke-linejoin="round" textLength="17.11" lengthAdjust="spacingAndGlyphs">2</text>
<text x="1422.35" y="1654.30" font-family='"DejaVu Serif Condensed","DejaVu Serif",serif' font-stretch="condensed" font-size="30.82" fill="#595959" stroke="#595959" stroke-width="0.7" stroke-linejoin="round" textLength="17.11" lengthAdjust="spacingAndGlyphs">4</text>
<text x="1625.95" y="1654.30" font-family='"DejaVu Serif Condensed","DejaVu Serif",serif' font-stretch="condensed" font-size="30.82" fill="#595959" stroke="#595959" stroke-width="0.7" stroke-linejoin="round" textLength="17.11" lengthAdjust="spacingAndGlyphs">6</text>
<text transform="translate(912.00,0) rotate(-90)" x="-1470.34" y="0" font-family='"DejaVu Serif Condensed","DejaVu Serif",serif' font-stretch="condensed" font-size="30.59" fill="#595959" stroke="#595959" stroke-width="0.7" stroke-linejoin="round" textLength="313.77" lengthAdjust="spacingAndGlyphs">Power Density (mWm</text>
<text transform="translate(902.20,0) rotate(-90)" x="-1154.52" y="0" font-family='"DejaVu Serif Condensed","DejaVu Serif",serif' font-stretch="condensed" font-size="20.19" fill="#595959" stroke="#595959" stroke-width="0.5" stroke-linejoin="round" textLength="18.14" lengthAdjust="spacingAndGlyphs">-2</text>
<text transform="translate(912.00,0) rotate(-90)" x="-1136.35" y="0" font-family='"DejaVu Serif Condensed","DejaVu Serif",serif' font-stretch="condensed" font-size="30.59" fill="#595959" stroke="#595959" stroke-width="0.7" stroke-linejoin="round" textLength="12.23" lengthAdjust="spacingAndGlyphs">)</text>
<text x="1142.57" y="1718.40" font-family='"DejaVu Serif Condensed","DejaVu Serif",serif' font-stretch="condensed" font-size="30.59" fill="#595959" stroke="#595959" stroke-width="0.7" stroke-linejoin="round" textLength="331.22" lengthAdjust="spacingAndGlyphs">Current Density (mA m</text>
<text x="1475.01" y="1708.60" font-family='"DejaVu Serif Condensed","DejaVu Serif",serif' font-stretch="condensed" font-size="20.46" fill="#595959" stroke="#595959" stroke-width="0.5" stroke-linejoin="round" textLength="19.36" lengthAdjust="spacingAndGlyphs">-2</text>
<text x="1492.19" y="1718.40" font-family='"DejaVu Serif Condensed","DejaVu Serif",serif' font-stretch="condensed" font-size="30.59" fill="#595959" stroke="#595959" stroke-width="0.7" stroke-linejoin="round" textLength="14.68" lengthAdjust="spacingAndGlyphs">)</text>
<text x="1354.59" y="1020.50" font-family='"DejaVu Serif Condensed","DejaVu Serif",serif' font-stretch="condensed" font-size="30.59" fill="#595959" stroke="#595959" stroke-width="0.7" stroke-linejoin="round" textLength="115.43" lengthAdjust="spacingAndGlyphs">medium</text>
<text x="1354.60" y="1097.20" font-family='"DejaVu Serif Condensed","DejaVu Serif",serif' font-stretch="condensed" font-size="30.59" fill="#595959" stroke="#595959" stroke-width="0.7" stroke-linejoin="round" textLength="233.24" lengthAdjust="spacingAndGlyphs">medium + CuCl2</text>
<text x="1354.01" y="1136.00" font-family='"DejaVu Serif Condensed","DejaVu Serif",serif' font-stretch="condensed" font-size="30.59" fill="#595959" stroke="#595959" stroke-width="0.7" stroke-linejoin="round" textLength="277.70" lengthAdjust="spacingAndGlyphs">(modified medium)</text>
</svg>
</body></html>
